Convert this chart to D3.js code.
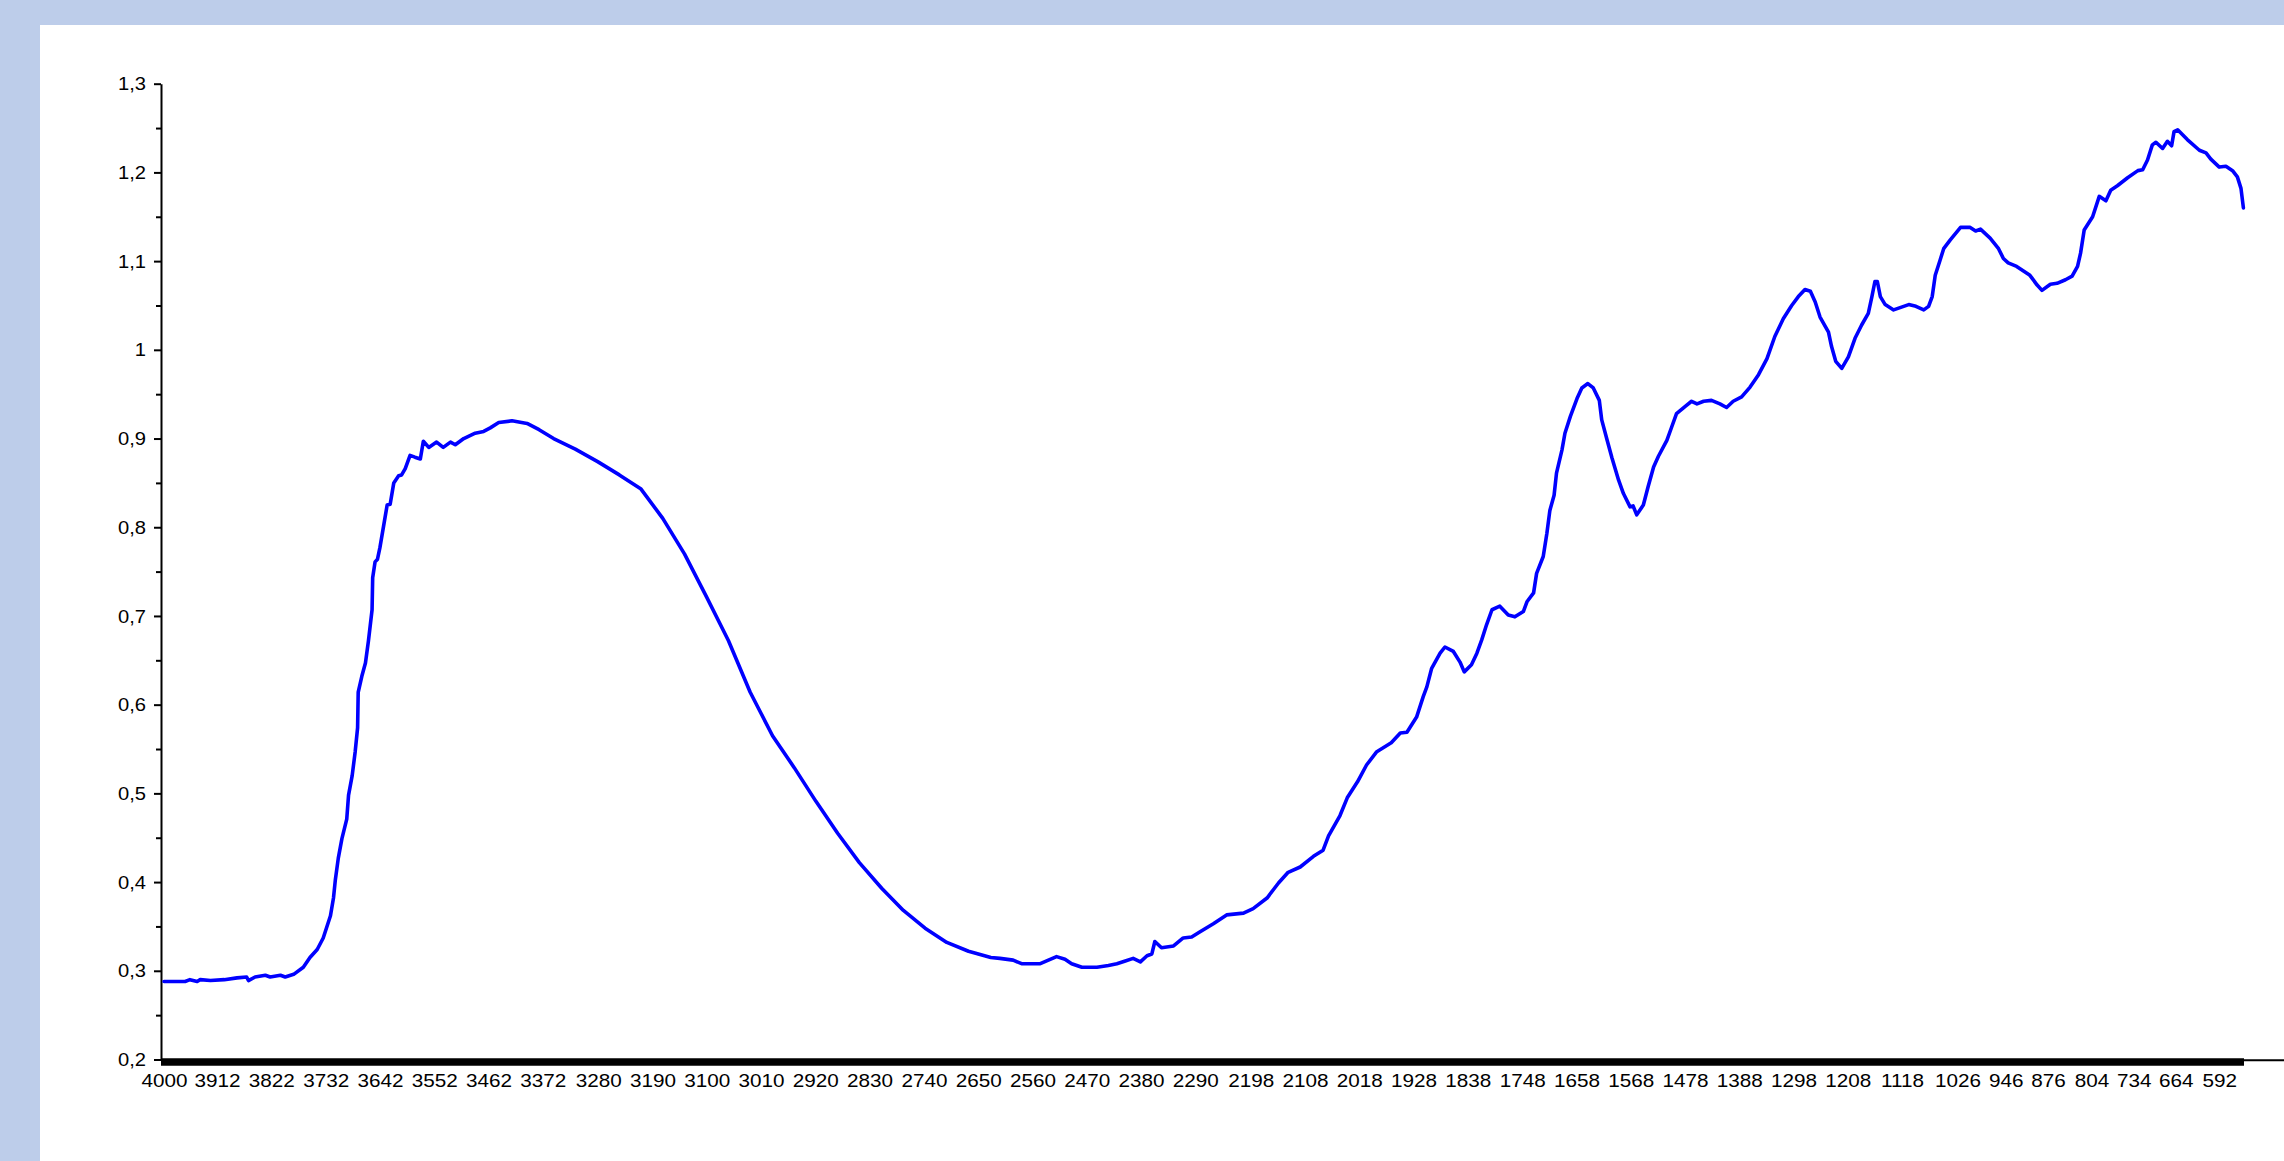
<!DOCTYPE html>
<html>
<head>
<meta charset="utf-8">
<script src="https://cdn.jsdelivr.net/npm/d3@7"></script>
<style>
  html, body { margin: 0; padding: 0; background: #bdcdea; overflow: hidden; }
  svg { display: block; }
</style>
</head>
<body>
<svg id="chart" width="2284" height="1161"></svg>
<script>
// spectrum: wavenumber (cm-1) and absorbance
const wavenumbers = [
  4000, 3965, 3957, 3945, 3940, 3923, 3900, 3879, 3863, 3860, 3849, 3832, 3824, 3807, 3799, 3785,
  3769, 3758, 3746, 3736, 3724, 3719, 3716, 3711, 3705, 3697, 3694, 3688, 3683, 3679, 3678, 3672,
  3666, 3661, 3655, 3654, 3650, 3646, 3642, 3636, 3630, 3625, 3619, 3611, 3606, 3600, 3592, 3584,
  3575, 3570, 3561, 3548, 3537, 3525, 3517, 3503, 3484, 3470, 3459, 3445, 3423, 3398, 3378, 3354,
  3318, 3281, 3245, 3209, 3173, 3137, 3100, 3064, 3028, 2991, 2955, 2919, 2883, 2847, 2810, 2774,
  2738, 2702, 2666, 2629, 2614, 2592, 2578, 2547, 2520, 2506, 2495, 2478, 2453, 2434, 2420, 2406,
  2393, 2381, 2370, 2362, 2357, 2346, 2326, 2310, 2296, 2282, 2260, 2238, 2210, 2194, 2171, 2152,
  2136, 2116, 2094, 2078, 2069, 2050, 2038, 2021, 2006, 1989, 1965, 1950, 1939, 1923, 1912, 1906,
  1898, 1884, 1876, 1862, 1851, 1844, 1832, 1823, 1815, 1807, 1798, 1785, 1771, 1760, 1746, 1740,
  1729, 1724, 1713, 1707, 1702, 1695, 1691, 1682, 1677, 1668, 1657, 1649, 1639, 1630, 1620, 1616,
  1607, 1599, 1588, 1580, 1569, 1564, 1558, 1547, 1539, 1530, 1522, 1508, 1500, 1492, 1478, 1467,
  1458, 1447, 1434, 1420, 1409, 1398, 1384, 1370, 1356, 1342, 1329, 1315, 1301, 1290, 1279, 1270,
  1262, 1254, 1240, 1235, 1228, 1218, 1207, 1196, 1185, 1174, 1168, 1163, 1159, 1154, 1146, 1132,
  1107, 1095, 1082, 1074, 1068, 1063, 1055, 1049, 1038, 1021, 1005, 996, 988, 972, 958, 950,
  942, 928, 906, 894, 886, 872, 861, 847, 836, 827, 822, 816, 802, 791, 780, 772,
  761, 744, 727, 719, 711, 703, 697, 686, 678, 671, 667, 661, 645, 625, 614, 606,
  592, 581, 570, 562, 556, 552
]
const absorbance = [
  0.288, 0.288, 0.290, 0.288, 0.290, 0.289, 0.290, 0.292, 0.293, 0.289, 0.293, 0.295, 0.293, 0.295, 0.293, 0.296,
  0.304, 0.315, 0.324, 0.337, 0.362, 0.382, 0.402, 0.427, 0.449, 0.471, 0.498, 0.520, 0.547, 0.574, 0.614, 0.632,
  0.647, 0.672, 0.707, 0.743, 0.761, 0.764, 0.777, 0.801, 0.825, 0.826, 0.850, 0.858, 0.859, 0.866, 0.881, 0.879,
  0.877, 0.897, 0.890, 0.896, 0.890, 0.896, 0.893, 0.900, 0.906, 0.908, 0.912, 0.918, 0.920, 0.917, 0.910, 0.900,
  0.888, 0.874, 0.859, 0.843, 0.810, 0.770, 0.721, 0.672, 0.614, 0.565, 0.529, 0.491, 0.455, 0.422, 0.393, 0.368,
  0.348, 0.332, 0.322, 0.315, 0.314, 0.312, 0.308, 0.308, 0.316, 0.313, 0.308, 0.304, 0.304, 0.306, 0.308, 0.311,
  0.314, 0.310, 0.317, 0.319, 0.333, 0.326, 0.328, 0.337, 0.338, 0.344, 0.353, 0.363, 0.365, 0.370, 0.382, 0.399,
  0.411, 0.417, 0.429, 0.436, 0.452, 0.475, 0.495, 0.513, 0.532, 0.547, 0.557, 0.568, 0.569, 0.586, 0.609, 0.620,
  0.641, 0.658, 0.665, 0.660, 0.648, 0.637, 0.645, 0.658, 0.673, 0.690, 0.707, 0.711, 0.701, 0.699, 0.705, 0.716,
  0.726, 0.748, 0.767, 0.793, 0.819, 0.836, 0.861, 0.887, 0.906, 0.925, 0.945, 0.957, 0.962, 0.957, 0.943, 0.921,
  0.898, 0.878, 0.853, 0.838, 0.823, 0.824, 0.814, 0.825, 0.846, 0.868, 0.880, 0.898, 0.913, 0.928, 0.936, 0.942,
  0.939, 0.942, 0.943, 0.939, 0.935, 0.942, 0.947, 0.958, 0.972, 0.990, 1.015, 1.035, 1.050, 1.060, 1.068, 1.066,
  1.054, 1.037, 1.020, 1.004, 0.987, 0.979, 0.992, 1.013, 1.028, 1.041, 1.060, 1.077, 1.077, 1.060, 1.051, 1.045,
  1.051, 1.049, 1.045, 1.049, 1.060, 1.084, 1.101, 1.114, 1.124, 1.138, 1.138, 1.134, 1.136, 1.126, 1.114, 1.103,
  1.098, 1.094, 1.084, 1.073, 1.067, 1.074, 1.075, 1.079, 1.083, 1.094, 1.109, 1.135, 1.150, 1.173, 1.168, 1.180,
  1.185, 1.194, 1.202, 1.203, 1.214, 1.231, 1.234, 1.227, 1.235, 1.230, 1.246, 1.248, 1.237, 1.225, 1.222, 1.215,
  1.206, 1.207, 1.202, 1.195, 1.182, 1.160
]

const xTickLabels = [
  4000, 3912, 3822, 3732, 3642, 3552, 3462, 3372, 3280, 3190, 3100, 3010, 2920, 2830, 2740, 2650,
  2560, 2470, 2380, 2290, 2198, 2108, 2018, 1928, 1838, 1748, 1658, 1568, 1478, 1388, 1298, 1208,
  1118, 1026, 946, 876, 804, 734, 664, 592
]
const yMajorTicks = [0.2, 0.3, 0.4, 0.5, 0.6, 0.7, 0.8, 0.9, 1.0, 1.1, 1.2, 1.3]
const yMinorTicks = [0.25, 0.35, 0.45, 0.55, 0.65, 0.75, 0.85, 0.95, 1.05, 1.15, 1.25]

const width = 2284
const height = 1161
const font = '"Liberation Sans", Arial, sans-serif'

const svg = d3.select('#chart')

// light blue frame, white panel
svg.append('rect').attr('width', width).attr('height', height).attr('fill', '#bdcdea')
svg.append('rect').attr('x', 40).attr('y', 25).attr('width', width - 40).attr('height', height - 25).attr('fill', '#fff')

const x = d3.scaleLinear().domain([4005, 551]).range([161, 2244])
const y = d3.scaleLinear().domain([0.2, 1.3]).range([1059.5, 83.7])

const comma = d3.formatLocale({ decimal: ',', thousands: ' ', grouping: [3], currency: ['', ''] })
const yFormat = comma.format('.2~f')

// x axis: thick bar with labels under it
svg.append('line')
  .attr('x1', x(4005)).attr('x2', x(551))
  .attr('y1', y(0.2) + 2.5).attr('y2', y(0.2) + 2.5)
  .attr('stroke', '#000').attr('stroke-width', 7.5)
svg.append('line')
  .attr('x1', x(551)).attr('x2', width)
  .attr('y1', y(0.2) + 0.8).attr('y2', y(0.2) + 0.8)
  .attr('stroke', '#000').attr('stroke-width', 2)

const xAxis = svg.append('g')
  .attr('transform', 'translate(0,' + y(0.2) + ')')
  .call(d3.axisBottom(x).tickValues(xTickLabels).tickSize(0).tickFormat(d3.format('d')))
xAxis.select('.domain').remove()
xAxis.selectAll('text')
  .attr('y', 14.5)
  .attr('dy', '0.71em')
  .attr('transform', 'scale(1.15,1)')
  .style('font-family', font).style('font-size', '18px').attr('fill', '#000')

// y axis with minor ticks
const yMinor = svg.append('g')
  .attr('transform', 'translate(161,0)')
  .call(d3.axisLeft(y).tickValues(yMinorTicks).tickSize(5).tickSizeOuter(0).tickFormat(''))
yMinor.select('.domain').remove()
yMinor.selectAll('line').attr('stroke', '#000').attr('stroke-width', 2)

const yAxis = svg.append('g')
  .attr('transform', 'translate(161,0)')
  .call(d3.axisLeft(y).tickValues(yMajorTicks).tickSize(7).tickSizeOuter(0).tickFormat(yFormat))
yAxis.select('.domain').attr('stroke', '#000').attr('stroke-width', 2)
yAxis.selectAll('line').attr('stroke', '#000').attr('stroke-width', 2)
yAxis.selectAll('text')
  .attr('x', -13.4)
  .attr('dy', '0.34em')
  .attr('transform', 'scale(1.12,1)')
  .style('font-family', font).style('font-size', '18px').attr('fill', '#000')

// the spectrum
const line = d3.line()
  .x(i => x(wavenumbers[i]))
  .y(i => y(absorbance[i]))

svg.append('path')
  .datum(d3.range(wavenumbers.length))
  .attr('d', line)
  .attr('fill', 'none')
  .attr('stroke', '#0000ff')
  .attr('stroke-width', 3.6)
  .attr('stroke-linejoin', 'round')
  .attr('stroke-linecap', 'round')
</script>
</body>
</html>
